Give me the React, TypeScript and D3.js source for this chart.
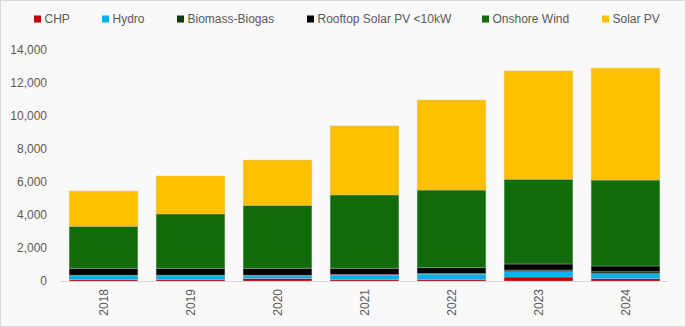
import React from "react";
import * as d3 from "d3";

const years = ["2018", "2019", "2020", "2021", "2022", "2023", "2024"];
const seriesNames = ["CHP", "Hydro", "Biomass-Biogas", "Rooftop Solar PV <10kW", "Onshore Wind", "Solar PV"];
const chp = [100, 100, 150, 100, 100, 240, 140];
const hydro = [220, 220, 170, 260, 320, 320, 300];
const biomass = [30, 30, 30, 30, 30, 100, 120];
const rooftop = [420, 420, 420, 380, 355, 370, 350];
const onshoreWind = [2540, 3290, 3810, 4440, 4700, 5130, 5200];
const solarPV = [2140, 2300, 2740, 4180, 5450, 6560, 6780];
const yTicks = [0, 2000, 4000, 6000, 8000, 10000, 12000, 14000];
const colors = ["#C00000", "#00B0F0", "#12381A", "#000000", "#116B0A", "#FFC000"];
const legendX = [34, 102, 177, 307, 482, 602];

const W = 686;
const H = 327;

export default function App() {
  const allSeries = [chp, hydro, biomass, rooftop, onshoreWind, solarPV];
  const table = years.map((y, i) => {
    const row: any = { year: y };
    seriesNames.forEach((s, k) => (row[s] = allSeries[k][i]));
    return row;
  });
  const stacked = d3.stack().keys(seriesNames)(table);
  const x = d3.scaleBand().domain(years).range([60, 669]).paddingInner(0.21).paddingOuter(0.105);
  const y = d3.scaleLinear().domain([0, 14000]).range([281, 49.7]);
  const fmt = d3.format(",");
  const font = "'Liberation Sans', Arial, sans-serif";

  return (
    <svg width={W} height={H} style={{ position: "absolute", left: 0, top: 0 }} fontFamily={font}>
      <rect x={0.5} y={0.5} width={W - 1} height={H - 1} fill="#F9F9F9" stroke="#D9D9D9" />
      {/* legend */}
      {seriesNames.map((s, k) => (
        <g key={s} transform={`translate(${legendX[k]},0)`}>
          <rect x={0} y={15.5} width={7} height={7} fill={colors[k]} />
          <text x={10.5} y={22.7} fontSize={12} fill="#595959">{s}</text>
        </g>
      ))}
      {/* y axis labels */}
      {yTicks.map((t) => (
        <text key={t} x={47} y={y(t)} dy="0.35em" textAnchor="end" fontSize={12} fill="#595959">
          {fmt(t)}
        </text>
      ))}
      {/* bars */}
      {stacked.map((layer, k) => (
        <g key={layer.key} fill={colors[k]}>
          {layer.map((d, i) => (
            <rect
              key={i}
              x={x(years[i])}
              y={y(d[1])}
              width={x.bandwidth()}
              height={Math.max(0, y(d[0]) - y(d[1]))}
              stroke="rgba(200,200,200,0.45)"
              strokeWidth={0.75}
            />
          ))}
        </g>
      ))}
      {/* baseline */}
      <line x1={60} x2={669} y1={281.5} y2={281.5} stroke="#D9D9D9" strokeWidth={1} />
      {/* x labels */}
      {years.map((yr) => (
        <text
          key={yr}
          transform={`translate(${(x(yr) as number) + x.bandwidth() / 2},289) rotate(-90)`}
          dy="0.35em"
          textAnchor="end"
          fontSize={12}
          fill="#595959"
        >
          {yr}
        </text>
      ))}
    </svg>
  );
}
